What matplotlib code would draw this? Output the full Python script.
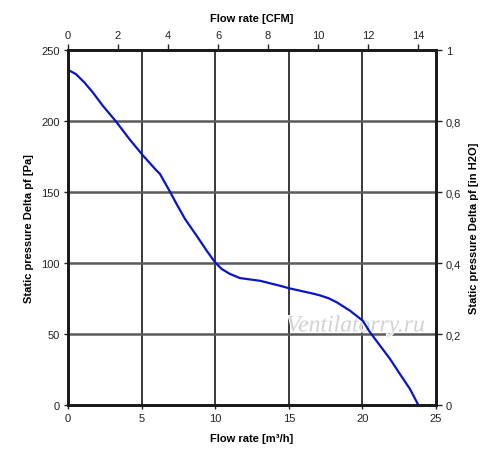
import matplotlib
matplotlib.use("Agg")
import matplotlib.pyplot as plt
import numpy as np
import matplotlib.patheffects as pe

plt.rcParams['font.family'] = ['Liberation Sans', 'DejaVu Sans']

flow_m3h = [0.0, 0.54, 1.11, 1.68, 2.36, 3.22, 4.17, 5.07, 5.98, 6.25, 6.93,
            7.38, 7.95, 8.74, 9.42, 9.99, 10.44, 11.0, 11.68, 13.04, 14.4,
            15.03, 15.76, 16.67, 17.12, 17.7, 18.25, 19.16, 20.02, 20.52, 21.2,
            21.88, 22.55, 23.23, 23.8]
pressure_pa = [236.1, 233.0, 227.2, 220.2, 210.8, 200.2, 187.3, 176.0, 165.5,
               162.7, 150.2, 141.5, 131.0, 119.2, 108.7, 100.5, 95.8, 92.3,
               89.4, 87.5, 84.0, 82.2, 80.5, 78.4, 77.2, 75.2, 72.4, 66.4, 59.4,
               51.2, 41.8, 32.4, 21.8, 11.3, 0.0]

x_ticks = [0, 5, 10, 15, 20, 25]
y_ticks = [0, 50, 100, 150, 200, 250]
cfm_ticks = [0, 2, 4, 6, 8, 10, 12, 14]
inh2o_ticks = [0, 0.2, 0.4, 0.6, 0.8, 1.0]
inh2o_labels = ["0", "0,2", "0,4", "0,6", "0,8", "1"]

M3H_TO_CFM = 0.588578
FS = 8

fig = plt.figure(figsize=(5.0, 4.56), dpi=100)
ax = fig.add_axes([0.136, 0.1096, 0.736, 0.7785])
ax.set_xlim(0, 25)
ax.set_ylim(0, 250)

for xv in x_ticks[1:-1]:
    ax.axvline(xv, color='#2a2a2a', lw=1.3, zorder=1)
for yv in y_ticks[1:-1]:
    ax.axhline(yv, color='#5a5a5a', lw=1.8, zorder=1)

ax.plot(flow_m3h, pressure_pa, color='#0a14c8', lw=1.6, zorder=3,
        solid_joinstyle='round')

for s in ax.spines.values():
    s.set_linewidth(1.8)
    s.set_color('#1a1a1a')

ax.set_xticks(x_ticks)
ax.set_yticks(y_ticks)
ax.tick_params(axis='both', labelsize=FS, length=3, width=1, pad=3, colors='#222222')
ax.set_xlabel("Flow rate [m\u00b3/h]", fontsize=FS, fontweight='bold', labelpad=7)
ax.set_ylabel("Static pressure Delta pf [Pa]", fontsize=FS, fontweight='bold', labelpad=5)

axt = ax.twiny()
axt.set_xlim(0, 25 * M3H_TO_CFM)
axt.set_xticks(cfm_ticks)
axt.tick_params(axis='x', labelsize=FS, length=4, width=1, pad=3, colors='#222222')
axt.set_xlabel("Flow rate [CFM]", fontsize=FS, fontweight='bold', labelpad=7)

axr = ax.twinx()
axr.set_ylim(0, 1)
axr.set_yticks(inh2o_ticks)
axr.set_yticklabels(inh2o_labels)
axr.tick_params(axis='y', labelsize=FS, length=4, width=1, pad=3, colors='#222222')
axr.set_ylabel("Static pressure Delta pf [in H2O]", fontsize=FS, fontweight='bold', labelpad=6)

for a in (axt, axr):
    for s in a.spines.values():
        s.set_linewidth(1.8)
        s.set_color('#1a1a1a')

ax.text(356 / 500, 1 - 327 / 456, "Ventilatorry.ru", transform=fig.transFigure,
        fontsize=17, style='italic', family='Liberation Serif', color='#d2d2d2',
        ha='center', va='center', zorder=2,
        path_effects=[pe.withStroke(linewidth=1.5, foreground='white')])

fig.savefig("out.png", dpi=100, facecolor='white')
